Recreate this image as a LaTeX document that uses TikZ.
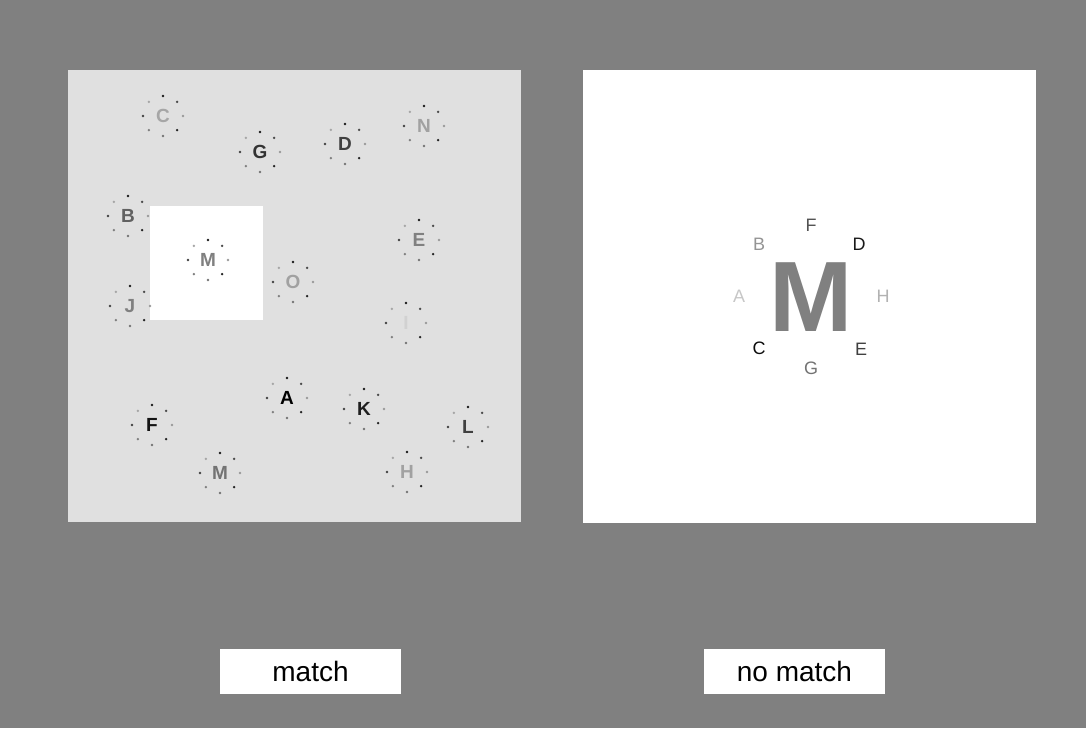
\documentclass[tikz,border=0pt]{standalone}
\usepackage{fontspec}
\setmainfont{Liberation Sans}
\usepackage{xcolor}
\usepackage{tikz}

\definecolor{screenGray}{HTML}{808080}
\definecolor{panelGray}{HTML}{E0E0E0}

\tikzset{
  stim/.style={inner sep=0pt, font=\fontsize{19}{19}\selectfont\bfseries},
  ring/.style={inner sep=0pt, font=\fontsize{18}{18}\selectfont},
  btn/.style={fill=white, inner sep=0pt, minimum width=181pt, minimum height=45pt,
    font=\fontsize{28}{28}\selectfont},
}

% letter with its little flanking marks
\newcommand{\stimulus}[5]{%
  \node[stim, text=#5] (#1) at (#2,#3) {#4};
  \foreach \a/\s in {90/55,45/85,0/40,-45/70,-90/90,-135/35,180/75,135/50}
    \fill[black!\s] (#1.center) ++(\a:20) circle (1.3);
}

\begin{document}
\begin{tikzpicture}[x=1pt, y=-1pt]
    \useasboundingbox (0,0) rectangle (1086,728);
    \fill[screenGray] (0,0) rectangle (1086,728);

    % search display
    \fill[panelGray] (68,70) rectangle (521,522);
    \fill[white] (150,206) rectangle (263,320);

    \stimulus{sC}{163}{116}{C}{black!35}
    \stimulus{sG}{260}{152}{G}{black!80}
    \stimulus{sD}{345}{144}{D}{black!75}
    \stimulus{sN}{424}{126}{N}{black!37}
    \stimulus{sB}{128}{216}{B}{black!62}
    \stimulus{sMa}{208}{260}{M}{black!50}
    \stimulus{sE}{419}{240}{E}{black!50}
    \stimulus{sO}{293}{282}{O}{black!37}
    \stimulus{sJ}{130}{306}{J}{black!50}
    \stimulus{sI}{406}{323}{I}{black!18}
    \stimulus{sA}{287}{398}{A}{black}
    \stimulus{sK}{364}{409}{K}{black!88}
    \stimulus{sF}{152}{425}{F}{black!92}
    \stimulus{sL}{468}{427}{L}{black!75}
    \stimulus{sMb}{220}{473}{M}{black!55}
    \stimulus{sH}{407}{472}{H}{black!37}

    % zoomed target
    \fill[white] (583,70) rectangle (1036,523);
    \node[inner sep=0pt, text=screenGray, font=\fontsize{100}{100}\selectfont\bfseries]
      (bigM) at (811,297) {M};
    \node[ring, text=black!68] (rF) at (811,225) {F};
    \node[ring, text=black!90] (rD) at (859,244) {D};
    \node[ring, text=black!30] (rH) at (883,296) {H};
    \node[ring, text=black!75] (rE) at (861,349) {E};
    \node[ring, text=black!55] (rG) at (811,368) {G};
    \node[ring, text=black!95] (rC) at (759,348) {C};
    \node[ring, text=black!22] (rA) at (739,296) {A};
    \node[ring, text=black!42] (rB) at (759,244) {B};

    % response buttons
    \node[btn] (match) at (310.5,671.5) {match};
    \node[btn] (nomatch) at (794.5,671.5) {no match};
  \end{tikzpicture}
\end{document}
